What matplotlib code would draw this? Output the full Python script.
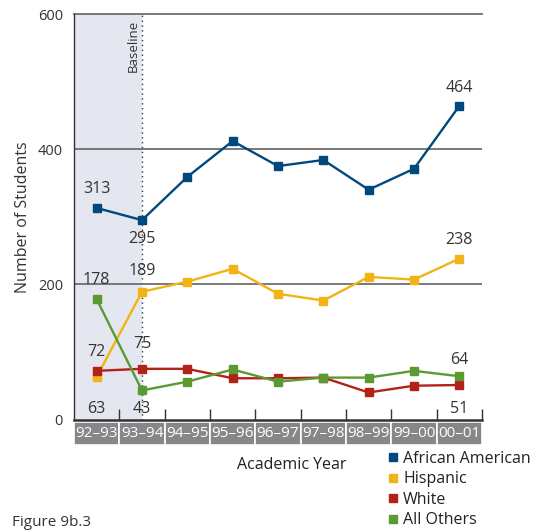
import matplotlib
matplotlib.use("Agg")
import matplotlib.pyplot as plt
from matplotlib.lines import Line2D
from matplotlib.patches import Rectangle

plt.rcParams['font.family'] = ['Open Sans', 'DejaVu Sans']

years = ["92–93", "93–94", "94–95", "95–96", "96–97", "97–98", "98–99", "99–00", "00–01"]
african_american = [313, 295, 359, 412, 375, 384, 340, 371, 464]
hispanic = [63, 189, 204, 223, 186, 176, 211, 207, 238]
white = [72, 75, 75, 61, 61, 62, 40, 50, 51]
all_others = [178, 43, 56, 74, 56, 62, 62, 72, 64]

series = [
    ("African American", african_american, "#00497f"),
    ("Hispanic", hispanic, "#f0b414"),
    ("White", white, "#b32218"),
    ("All Others", all_others, "#5b9a33"),
]

W, H = 536, 531
fig = plt.figure(figsize=(W / 100, H / 100), dpi=100)
ax = fig.add_axes([74 / W, (H - 419.5) / H, (482 - 74) / W, (419.5 - 14) / H])

n = len(years)
x = list(range(n))
ax.set_xlim(-0.5, n - 0.5)
ax.set_ylim(0, 600)

# baseline shading and dotted marker
ax.axvspan(-0.5, 1, color="#e4e6f0", zorder=0, lw=0)
ax.axvline(1, color="#333333", lw=1, ls=(0, (1, 2.5)), zorder=1)
ax.text(0.8, 592, "Baseline", rotation=90, ha="center", va="top", fontsize=9.5, color="#333333")

# horizontal rules
for yv in (200, 400):
    ax.axhline(yv, color="#6e6e6e", lw=1.3, zorder=1)
ax.axhline(600, color="#6e6e6e", lw=1.3, zorder=1, clip_on=False)

for name, vals, col in series:
    ax.plot(x, vals, color=col, lw=1.7, marker="s", ms=6, zorder=3)

# value labels
lab_kw = dict(fontsize=11.5, color="#333333", ha="center", zorder=4)
def lab(i, v, dy, va):
    ax.annotate(str(v), (i, v), xytext=(0, dy), textcoords="offset points", va=va, **lab_kw)

lab(0, african_american[0], 8, "bottom")
lab(1, african_american[1], -8, "top")
lab(8, african_american[8], 7, "bottom")
lab(1, hispanic[1], 9, "bottom")
lab(8, hispanic[8], 8, "bottom")
lab(0, all_others[0], 8, "bottom")
lab(0, white[0], 8, "bottom")
lab(1, white[1], 12, "bottom")
lab(8, all_others[8], 6, "bottom")
for i, v in ((0, hispanic[0]), (1, all_others[1]), (8, white[8])):
    ax.text(i, 3, str(v), va="bottom", **lab_kw)

# axes styling
for s in ("top", "right"):
    ax.spines[s].set_visible(False)
ax.spines["left"].set_color("#333333")
ax.spines["bottom"].set_color("#333333")
ax.spines["bottom"].set_linewidth(1.8)
ax.spines["left"].set_linewidth(1.0)
ax.set_yticks([0, 200, 400, 600])
ax.tick_params(axis="y", length=0, pad=8, labelsize=10.5, labelcolor="#333333")
ax.set_xticks([i + 0.5 for i in range(n)])
ax.tick_params(axis="x", direction="in", length=8, width=1, color="#333333", labelbottom=False)

# category band
band_h = 35
for i, yr in enumerate(years):
    ax.add_patch(Rectangle((i - 0.5, -band_h - 3), 1, band_h, facecolor="#87878a",
                           edgecolor="white", lw=1.2, clip_on=False, zorder=2))
    ax.text(i, -3 - band_h / 2, yr, ha="center", va="center", color="white",
            fontsize=11, clip_on=False)

ax.set_ylabel("Number of Students", fontsize=11.5, color="#333333", labelpad=5)
fig.text(292 / W, 1 - 465 / H, "Academic Year", ha="center", va="center", fontsize=11.5, color="#222222")

handles = [Line2D([], [], ls="none", marker="s", ms=6, color=c) for _, _, c in series]
fig.legend(handles, [s[0] for s in series], loc="upper left", bbox_to_anchor=(388 / W, 1 - 451 / H),
           frameon=False, fontsize=11.5, handlelength=0.6, handletextpad=0.35, labelspacing=0.28,
           borderpad=0, borderaxespad=0, labelcolor="#222222")

fig.text(12 / W, 1 - 515 / H, "Figure 9b.3", ha="left", va="top", fontsize=11, color="#333333")

fig.savefig("out.png", dpi=100)
